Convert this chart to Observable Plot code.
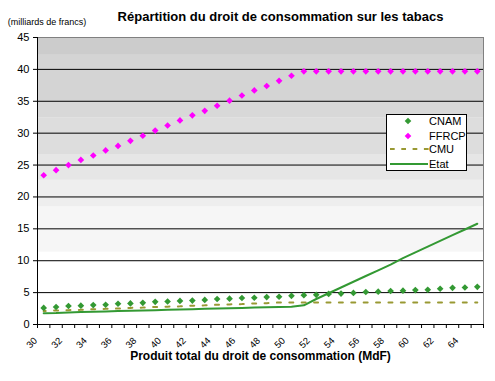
<!DOCTYPE html>
<html>
<head>
<meta charset="utf-8">
<script src="https://cdn.jsdelivr.net/npm/d3@7"></script>
<script src="https://cdn.jsdelivr.net/npm/@observablehq/plot@0.6"></script>
<style>
  html, body { margin: 0; padding: 0; background: #fff; }
  #wrap { position: relative; width: 495px; height: 381px; overflow: hidden; }
  #legend { position: absolute; left: 386px; top: 114px; }
</style>
</head>
<body>
<div id="wrap"></div>
<script>
// ---- Data (milliards de francs) ----
const categories = [30,31,32,33,34,35,36,37,38,39,40,41,42,43,44,45,46,47,48,49,50,51,52,53,54,55,56,57,58,59,60,61,62,63,64,65];
const cnam  = [2.6,2.75,2.9,2.95,3.05,3.1,3.25,3.3,3.4,3.55,3.6,3.7,3.75,3.85,4.0,4.05,4.15,4.2,4.3,4.35,4.5,4.6,4.65,4.8,4.85,4.95,5.1,5.15,5.25,5.3,5.4,5.45,5.6,5.75,5.8,5.9];
const ffrcp = [23.4,24.2,25.0,25.8,26.5,27.3,28.0,28.8,29.6,30.4,31.2,32.0,32.8,33.5,34.3,35.1,35.9,36.7,37.4,38.2,39.0,39.7,39.7,39.7,39.7,39.7,39.7,39.7,39.7,39.7,39.7,39.7,39.7,39.7,39.7,39.7];
const cmu   = [2.1,2.2,2.25,2.3,2.4,2.45,2.5,2.6,2.65,2.75,2.8,2.85,2.95,3.0,3.1,3.15,3.2,3.3,3.35,3.45,3.45,3.45,3.45,3.45,3.45,3.45,3.45,3.45,3.45,3.45,3.45,3.45,3.45,3.45,3.45,3.45];
const etat  = [1.75,1.8,1.9,1.95,2.0,2.05,2.1,2.15,2.2,2.25,2.3,2.35,2.4,2.45,2.5,2.55,2.6,2.65,2.7,2.75,2.8,3.0,4.0,4.9,5.8,6.7,7.6,8.5,9.4,10.4,11.3,12.2,13.1,14.0,14.9,15.8];
const xTickLabels = [30,32,34,36,38,40,42,44,46,48,50,52,54,56,58,60,62,64];
const yTicks = [0,5,10,15,20,25,30,35,40,45];
const seriesNames = ["CNAM","FFRCP","CMU","Etat"];
const titleText = "Répartition du droit de consommation sur les tabacs";
const unitText = "(milliards de francs)";
const xTitle = "Produit total du droit de consommation (MdF)";
// background gradient bands (value ranges)
const bandLows  = [42.2, 34.85, 32.35, 26.65, 22.6, 18.4, 11.35];
const bandHighs = [45, 42.2, 34.85, 32.35, 26.65, 22.6, 18.4];
const bandFills = ["#cccccc","#d4d4d4","#d8d8d8","#dddddd","#e6e6e6","#eeeeee","#f6f6f6"];

const colors = {CNAM: "#339933", FFRCP: "#ff00ff", CMU: "#999933", Etat: "#339933"};

const rows = categories.map((c, i) => ({x: c, cnam: cnam[i], ffrcp: ffrcp[i], cmu: cmu[i], etat: etat[i]}));
const bands = bandLows.map((lo, i) => ({y1: lo, y2: bandHighs[i], fill: bandFills[i]}));
const xMin = categories[0] - 0.5, xMax = categories[categories.length - 1] + 0.5;
const boundaries = categories.map(c => c - 0.5).concat([xMax]);
const gridLines = yTicks.filter(v => v > 0 && v < 45);

const font = "'Liberation Sans', Arial, sans-serif";
const dotR = 3;

const chart = Plot.plot({
  width: 495,
  height: 381,
  marginLeft: 37,
  marginRight: 12,
  marginTop: 37,
  marginBottom: 57,
  x: {type: "linear", domain: [xMin, xMax]},
  y: {domain: [0, 45]},
  style: {fontFamily: font, background: "#fff", color: "#000"},
  marks: [
    Plot.rect(bands, {y1: "y1", y2: "y2", fill: "fill"}),
    Plot.ruleY(gridLines, {stroke: "#000", strokeWidth: 1}),
    Plot.ruleY([45], {stroke: "#808080"}),
    Plot.ruleX([xMax], {stroke: "#808080"}),
    Plot.axisY({ticks: yTicks, tickSize: 4, tickPadding: 4, fontSize: 11, label: null, stroke: "#000"}),
    Plot.axisX({ticks: boundaries, tickSize: 4, tickFormat: () => "", label: null, stroke: "#000"}),
    Plot.axisX({ticks: xTickLabels, tickSize: 0, tickPadding: 14.5, tickRotate: -45, dx: -8, fontSize: 9.5, label: null, tickFormat: d => String(d)}),
    Plot.ruleX([xMin], {stroke: "#000"}),
    Plot.ruleY([0], {stroke: "#000"}),
    Plot.line(rows, {x: "x", y: "etat", stroke: colors.Etat, strokeWidth: 2}),
    Plot.line(rows, {x: "x", y: "cmu", stroke: colors.CMU, strokeWidth: 2, strokeDasharray: "4,8.39", strokeDashoffset: 2}),
    Plot.dot(rows, {x: "x", y: "cnam", symbol: "diamond2", r: dotR, fill: colors.CNAM, stroke: null}),
    Plot.dot(rows, {x: "x", y: "ffrcp", symbol: "diamond2", r: dotR, fill: colors.FFRCP, stroke: null}),
    Plot.text([titleText], {frameAnchor: "top", dx: 20, dy: -20.5, fontSize: 13, fontWeight: "bold", lineAnchor: "middle", fill: "#000"}),
    Plot.text([unitText], {frameAnchor: "top-left", textAnchor: "start", lineAnchor: "middle", dx: -29.7, dy: -15.5, fontSize: 9, fill: "#000"}),
    Plot.text([xTitle], {frameAnchor: "bottom", lineAnchor: "middle", dy: 31.5, fontSize: 12, fontWeight: "bold", fill: "#000"})
  ]
});
document.getElementById("wrap").appendChild(chart);

// Legend (HTML/SVG overlay)
const lg = d3.select("#wrap").append("svg").attr("id", "legend")
  .attr("width", 81).attr("height", 57)
  .style("font-family", font).style("font-size", "11px");
lg.append("rect").attr("x", 0.5).attr("y", 0.5).attr("width", 80).attr("height", 56)
  .attr("fill", "#fff").attr("stroke", "#000");
const rowY = [7, 22, 35, 50];
seriesNames.forEach((name, i) => {
  const g = lg.append("g").attr("transform", `translate(0,${rowY[i]})`);
  if (name === "CNAM" || name === "FFRCP") {
    g.append("path").attr("d", d3.symbol(d3.symbolDiamond2, Math.PI * dotR * dotR)())
      .attr("transform", "translate(22,0)").attr("fill", colors[name]);
  } else if (name === "CMU") {
    g.append("line").attr("x1", 4).attr("x2", 43).attr("y1", 0).attr("y2", 0)
      .attr("stroke", colors[name]).attr("stroke-width", 2).attr("stroke-dasharray", "4.7,6.6");
  } else {
    g.append("line").attr("x1", 4).attr("x2", 42).attr("y1", 0).attr("y2", 0)
      .attr("stroke", colors[name]).attr("stroke-width", 2);
  }
  g.append("text").attr("x", 43).attr("y", 0).attr("dy", "0.35em").text(name);
});
</script>
</body>
</html>
